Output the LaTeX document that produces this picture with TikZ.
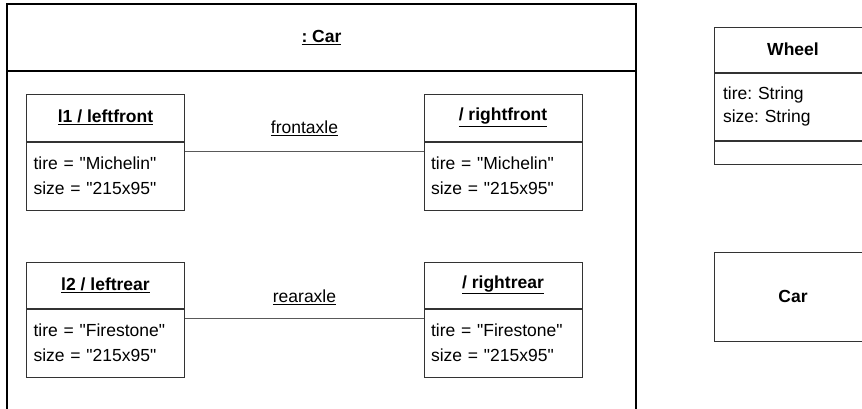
\documentclass[tikz,border=0pt]{standalone}
\usepackage{fontspec}
\setmainfont{Liberation Sans}
\newfontfamily\lsans{Liberation Sans}
\frenchspacing
\begin{document}
\begin{tikzpicture}[x=1pt,y=-1pt,
  txt/.style={font=\lsans\fontsize{17.5}{25}\selectfont},
  cell/.style={txt, draw=black!80, line width=1pt, inner sep=0pt, minimum width=158pt},
  hdr/.style={cell, align=center},
  attrs/.style={cell, align=left, text width=144pt, inner xsep=7pt, anchor=north},
  assoc/.style={draw=black!65, line width=1pt},
  frame/.style={draw=black, line width=2pt},
  lbl/.style={txt}]
\useasboundingbox (0,0) rectangle (862,408);

% outer : Car composite object
\draw[frame] (7,420) -- (7,4) -- (636,4) -- (636,420);
\draw[frame] (7,71) -- (636,71);
\node[txt] (cartitle) at (321.5,37.5) {\textbf{\underline{: Car}}};

% front wheels
\node[hdr, minimum height=47pt] (lf) at (105.5,117.5) {\textbf{\underline{l1 / leftfront}}};
\node[attrs, minimum height=68pt] (lfa) at (lf.south) {tire = "Michelin"\\size = "215x95"};
\node[hdr, minimum height=47pt] (rf) at (503,117.5) {\textbf{\underline{/ rightfront}}};
\node[attrs, minimum height=68pt] (rfa) at (rf.south) {tire = "Michelin"\\size = "215x95"};

% rear wheels
\node[hdr, minimum height=46pt] (lr) at (105.5,285) {\textbf{\underline{l2 / leftrear}}};
\node[attrs, minimum height=68pt] (lra) at (lr.south) {tire = "Firestone"\\size = "215x95"};
\node[hdr, minimum height=46pt] (rr) at (503,285) {\textbf{\underline{/ rightrear}}};
\node[attrs, minimum height=68pt] (rra) at (rr.south) {tire = "Firestone"\\size = "215x95"};

% links
\draw[assoc] ([yshift=-10pt]lfa.north east) -- ([yshift=-10pt]rfa.north west);
\node[lbl] (front) at (304.5,128) {\underline{frontaxle}};
\draw[assoc] ([yshift=-10pt]lra.north east) -- ([yshift=-10pt]rra.north west);
\node[lbl] (rear) at (304.5,297) {\underline{rearaxle}};

% class boxes on the right (cut by the picture edge)
\begin{scope}
\clip (0,0) rectangle (862,408);
\node[hdr, minimum height=45pt] (wheel) at (793,49.5) {\textbf{Wheel}};
\node[attrs, minimum height=67pt, inner xsep=9pt, text width=140pt, font=\lsans\fontsize{17.5}{23}\selectfont] (wheela) at (wheel.south) {tire: String\\size: String};
\node[cell, minimum height=23pt, anchor=north] (wheelo) at (wheela.south) {};
\node[hdr, minimum height=89pt] (car) at (793,296.5) {\textbf{Car}};
\end{scope}
\end{tikzpicture}
\end{document}
